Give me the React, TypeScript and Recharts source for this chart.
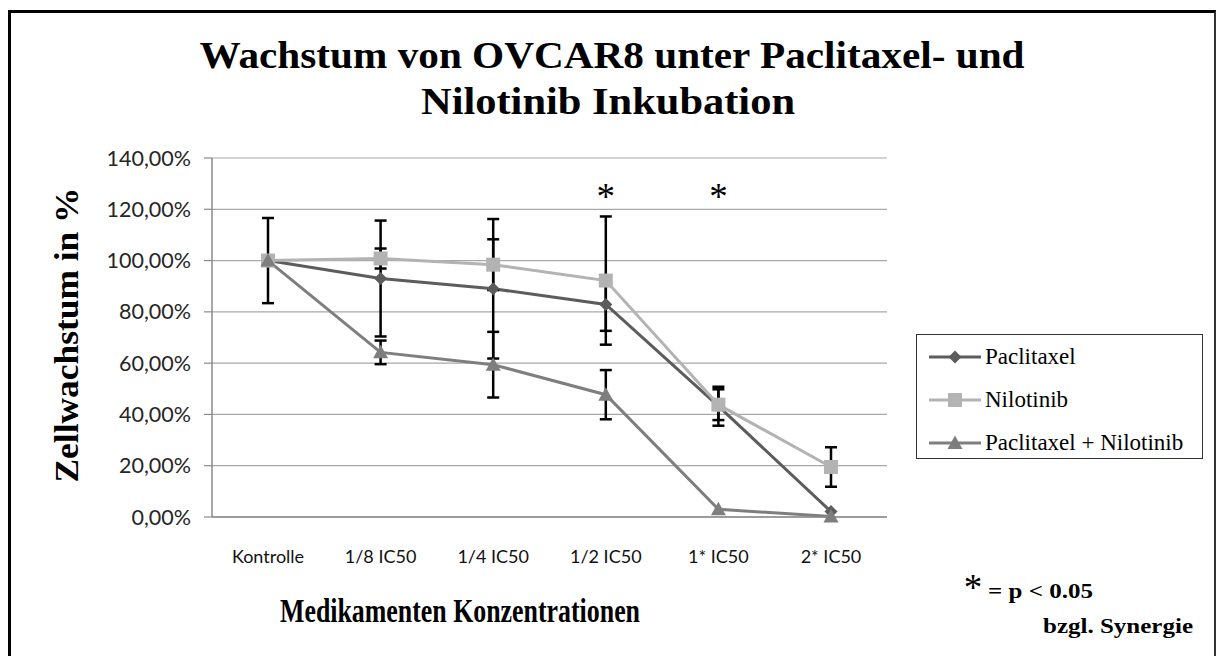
import React from 'react';
import {
  LineChart, Line, XAxis, YAxis, CartesianGrid, ErrorBar, Legend, ReferenceDot,
} from 'recharts';

const categories = ['Kontrolle', '1/8 IC50', '1/4 IC50', '1/2 IC50', '1* IC50', '2* IC50'];
const paclitaxel = [100, 93.0, 89.0, 82.9, 43.2, 2.1];
const paclitaxelErr = [16.6, 22.6, 27.2, 10.3, 7.6, 0];
const nilotinib = [100, 100.8, 98.4, 92.2, 43.8, 19.5];
const nilotinibErr = [0, 3.9, 9.9, 25.0, 6.0, 7.7];
const combo = [100, 64.2, 59.4, 47.7, 3.0, 0.2];
const comboErr = [0, 4.6, 12.8, 9.6, 0, 0];
const yTicks = [0, 20, 40, 60, 80, 100, 120, 140];
const starCategories = ['1/2 IC50', '1* IC50'];
const starLevel = 125;
const legendOrder = ['p', 'n', 'c'];

const data = categories.map((c, i) => ({
  cat: c,
  p: paclitaxel[i], pErr: paclitaxelErr[i],
  n: nilotinib[i], nErr: nilotinibErr[i],
  c: combo[i], cErr: comboErr[i],
}));

const COLORS = { p: '#5c5c5c', n: '#b3b3b3', c: '#7e7e7e' };
const SERIF = "'Liberation Serif', 'Times New Roman', serif";

const Diamond = ({ cx, cy, fill }: any) => (
  <path d={`M${cx},${cy - 6.5} L${cx + 6.5},${cy} L${cx},${cy + 6.5} L${cx - 6.5},${cy} Z`} fill={fill} />
);
const Square = ({ cx, cy, fill }: any) => (
  <rect x={cx - 7} y={cy - 7} width={14} height={14} fill={fill} />
);
const Triangle = ({ cx, cy, fill }: any) => (
  <path d={`M${cx},${cy - 7.5} L${cx + 7.5},${cy + 6} L${cx - 7.5},${cy + 6} Z`} fill={fill} />
);
const shapes: any = { p: Diamond, n: Square, c: Triangle };

const makeDot = (key: string) => (props: any) => {
  const S = shapes[key];
  if (props.cx == null || props.cy == null) return <g key={props.index} />;
  return <S key={props.index} cx={props.cx} cy={props.cy} fill={COLORS[key as 'p']} />;
};

const fmt = (v: number) => v.toFixed(2).replace('.', ',') + '%';

const renderLegend = (props: any) => {
  const payload = [...(props.payload || [])].sort(
    (a: any, b: any) => legendOrder.indexOf(a.dataKey) - legendOrder.indexOf(b.dataKey),
  );
  return (
    <div style={{
      width: 287, height: 125, boxSizing: 'border-box', border: '1.5px solid #333',
      background: '#fff', paddingTop: 4,
    }}>
      {payload.map((e: any) => {
        const key = e.dataKey as string;
        const S = shapes[key];
        return (
          <div key={key} style={{ display: 'flex', alignItems: 'center', height: 36, paddingLeft: 11, marginBottom: 7 }}>
            <svg width={54} height={16} style={{ flex: 'none' }}>
              <line x1={1} y1={8} x2={53} y2={8} stroke={COLORS[key as 'p']} strokeWidth={3} />
              <S cx={27} cy={8} fill={COLORS[key as 'p']} />
            </svg>
            <span style={{ fontFamily: SERIF, fontSize: 23, color: '#000', marginLeft: 3, whiteSpace: 'nowrap' }}>{e.value}</span>
          </div>
        );
      })}
    </div>
  );
};

const StarLabel = (props: any) => {
  const vb = props.viewBox || {};
  const x = vb.cx != null ? vb.cx : vb.x;
  const y = vb.cy != null ? vb.cy : vb.y;
  return (
    <text x={x} y={y + 13} textAnchor="middle" fontFamily={SERIF} fontSize={37} fill="#000">*</text>
  );
};

export default function App() {
  return (
    <div style={{ position: 'absolute', left: 0, top: 0, width: 1219, height: 656, background: '#fff', overflow: 'hidden' }}>
      <LineChart
        width={1219}
        height={656}
        data={data}
        margin={{ top: 158, right: 332, bottom: 109, left: 132 }}
      >
        <CartesianGrid vertical={false} stroke="#a8a8a8" strokeWidth={1.2} />
        <XAxis
          dataKey="cat"
          padding={{ left: 56, right: 56 }}
          tickLine={false}
          tickSize={0}
          tickMargin={33}
          axisLine={{ stroke: '#8a8a8a', strokeWidth: 1.5 }}
          tick={{ fontFamily: 'Lato, sans-serif', fontSize: 18, fill: '#111' }}
          interval={0}
          height={30}
        />
        <XAxis
          xAxisId="top"
          orientation="top"
          dataKey="cat"
          padding={{ left: 56, right: 56 }}
          tick={false}
          tickLine={false}
          axisLine={{ stroke: '#6a6a6a', strokeWidth: 1.5 }}
          height={0}
        />
        <YAxis
          domain={[0, 140]}
          ticks={yTicks}
          tickFormatter={fmt}
          width={80}
          tickSize={8}
          tickMargin={13}
          axisLine={{ stroke: '#8a8a8a', strokeWidth: 1.5 }}
          tickLine={{ stroke: '#8a8a8a', strokeWidth: 1.2 }}
          tick={{ fontFamily: 'Lato, sans-serif', fontSize: 21.5, fill: '#262626' }}
          interval={0}
        />
        <YAxis
          yAxisId="right"
          orientation="right"
          domain={[0, 140]}
          tick={false}
          tickLine={false}
          axisLine={{ stroke: '#8a8a8a', strokeWidth: 1.5 }}
          width={0}
        />
        <Legend
          layout="vertical"
          align="center"
          verticalAlign="middle"
          content={renderLegend}
          wrapperStyle={{ left: 916, top: 334, width: 287, height: 125 }}
        />
        <Line
          name="Paclitaxel"
          dataKey="p"
          stroke={COLORS.p}
          strokeWidth={3}
          dot={makeDot('p')}
          activeDot={false}
          isAnimationActive={false}
        >
          <ErrorBar dataKey="pErr" direction="y" width={6} stroke="#000" strokeWidth={2.5} />
        </Line>
        <Line
          name="Nilotinib"
          dataKey="n"
          stroke={COLORS.n}
          strokeWidth={3}
          dot={makeDot('n')}
          activeDot={false}
          isAnimationActive={false}
        >
          <ErrorBar dataKey="nErr" direction="y" width={6} stroke="#000" strokeWidth={2.5} />
        </Line>
        <Line
          name="Paclitaxel + Nilotinib"
          dataKey="c"
          stroke={COLORS.c}
          strokeWidth={3}
          dot={makeDot('c')}
          activeDot={false}
          isAnimationActive={false}
        >
          <ErrorBar dataKey="cErr" direction="y" width={6} stroke="#000" strokeWidth={2.5} />
        </Line>
        {starCategories.map((s) => (
          <ReferenceDot key={s} x={s} y={starLevel} r={0} fill="none" stroke="none" label={<StarLabel />} />
        ))}
      </LineChart>

      <svg width={1219} height={656} style={{ position: 'absolute', left: 0, top: 0, pointerEvents: 'none' }}>
        <text x={612} y={68} textAnchor="middle" fontFamily={SERIF} fontWeight="bold" fontSize={38}
          textLength={825} lengthAdjust="spacingAndGlyphs" fill="#000">Wachstum von OVCAR8 unter Paclitaxel- und</text>
        <text x={608} y={114} textAnchor="middle" fontFamily={SERIF} fontWeight="bold" fontSize={38}
          textLength={374} lengthAdjust="spacingAndGlyphs" fill="#000">Nilotinib Inkubation</text>
        <text x={78} y={335} textAnchor="middle" fontFamily={SERIF} fontWeight="bold" fontSize={34}
          textLength={295} lengthAdjust="spacingAndGlyphs" transform="rotate(-90 78 335)" fill="#000">Zellwachstum in  %</text>
        <text x={460} y={622} textAnchor="middle" fontFamily={SERIF} fontWeight="bold" fontSize={33}
          textLength={360} lengthAdjust="spacingAndGlyphs" fill="#000">Medikamenten Konzentrationen</text>
        <text x={973} y={600} textAnchor="middle" fontFamily={SERIF} fontSize={37} fill="#000">*</text>
        <text x={988} y={598} fontFamily={SERIF} fontWeight="bold" fontSize={21}
          textLength={105} lengthAdjust="spacingAndGlyphs" fill="#000">= p &lt; 0.05</text>
        <text x={1043} y={633} fontFamily={SERIF} fontWeight="bold" fontSize={21}
          textLength={150} lengthAdjust="spacingAndGlyphs" fill="#000">bzgl. Synergie</text>
      </svg>

      <div style={{
        position: 'absolute', left: 8, top: 10, width: 1208, height: 800, boxSizing: 'border-box',
        borderLeft: '3px solid #000', borderTop: '3px solid #000', borderRight: '2px solid #333',
        pointerEvents: 'none',
      }} />
    </div>
  );
}
